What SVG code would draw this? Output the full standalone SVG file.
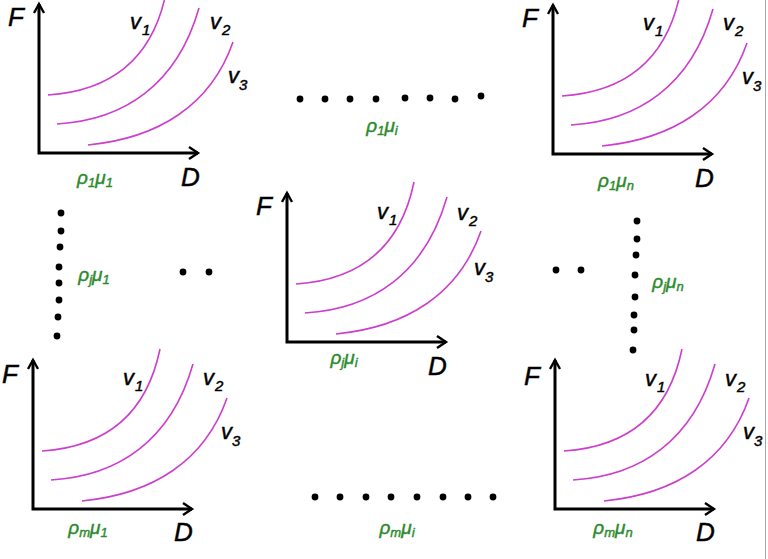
<svg xmlns="http://www.w3.org/2000/svg" xmlns:xlink="http://www.w3.org/1999/xlink" width="768" height="559" viewBox="0 0 768 559">
<style>
.ax{fill:none;stroke:#000;stroke-width:3}
.ch{fill:none;stroke:#000;stroke-width:2.4;stroke-linejoin:miter}
.cv{fill:none;stroke:#cc3fcc;stroke-width:1.6}
.t{font-family:"Liberation Sans",Arial,sans-serif;font-style:italic;fill:#000;stroke:#000;stroke-width:0.45}
.big{font-size:26px}
.v{font-size:22px}
.s{font-size:15px}
.g{font-family:"Liberation Sans",Arial,sans-serif;font-style:italic;fill:#2b8a2b;stroke:#2b8a2b;stroke-width:0.4;font-size:19px;text-anchor:middle}
.gs{font-size:13px}
.dot{fill:#000}
</style>
<defs>
<g id="plot">
<path class="ax" d="M0,-149 V0 H159"/>
<path class="ch" d="M-5,-140 L0,-149 L5,-140 M150,-6 L159,0 L150,6"/>
<path class="cv" d="M9,-58 C70,-62 113,-92 127,-160"/>
<path class="cv" d="M18,-29 C85,-33 138,-68 160,-145"/>
<path class="cv" d="M49,-8 C120,-15 172,-48 194,-111"/>
</g>
</defs>
<rect width="768" height="559" fill="#fff"/>
<line x1="765.5" y1="0" x2="765.5" y2="559" stroke="#a8a8a8" stroke-width="1"/>

<g id="panel-1-1">
<use xlink:href="#plot" href="#plot" x="39" y="153"/>
<text class="t big" x="8" y="26">F</text>
<text class="t v" x="130" y="29">v</text><text class="t s" x="142" y="35">1</text>
<text class="t v" x="210" y="29">v</text><text class="t s" x="222" y="35">2</text>
<text class="t v" x="228" y="83">v</text><text class="t s" x="239" y="90">3</text>
<text class="t big" x="181" y="186">D</text>
<text class="g" x="95" y="184">ρ<tspan class="gs" dy="3">1</tspan><tspan dy="-3">μ</tspan><tspan class="gs" dy="3">1</tspan></text>
</g>

<g id="panel-1-n">
<use xlink:href="#plot" href="#plot" x="553" y="154"/>
<text class="t big" x="522" y="27">F</text>
<text class="t v" x="643" y="30">v</text><text class="t s" x="655" y="36">1</text>
<text class="t v" x="723" y="30">v</text><text class="t s" x="735" y="36">2</text>
<text class="t v" x="742" y="84">v</text><text class="t s" x="753" y="91">3</text>
<text class="t big" x="695" y="187">D</text>
<text class="g" x="616" y="187">ρ<tspan class="gs" dy="3">1</tspan><tspan dy="-3">μ</tspan><tspan class="gs" dy="3">n</tspan></text>
</g>

<g id="panel-j-i">
<use xlink:href="#plot" href="#plot" x="287" y="342"/>
<text class="t big" x="256" y="215">F</text>
<text class="t v" x="377" y="219">v</text><text class="t s" x="389" y="225">1</text>
<text class="t v" x="457" y="220">v</text><text class="t s" x="469" y="226">2</text>
<text class="t v" x="474" y="275">v</text><text class="t s" x="485" y="282">3</text>
<text class="t big" x="428" y="375">D</text>
<text class="g" x="344" y="364">ρ<tspan class="gs" dy="3">j</tspan><tspan dy="-3">μ</tspan><tspan class="gs" dy="3">i</tspan></text>
</g>

<g id="panel-m-1">
<use xlink:href="#plot" href="#plot" x="33" y="509"/>
<text class="t big" x="2" y="383">F</text>
<text class="t v" x="123" y="385">v</text><text class="t s" x="135" y="391">1</text>
<text class="t v" x="203" y="385">v</text><text class="t s" x="215" y="391">2</text>
<text class="t v" x="221" y="439">v</text><text class="t s" x="232" y="446">3</text>
<text class="t big" x="174" y="541">D</text>
<text class="g" x="88" y="534">ρ<tspan class="gs" dy="3">m</tspan><tspan dy="-3">μ</tspan><tspan class="gs" dy="3">1</tspan></text>
</g>

<g id="panel-m-n">
<use xlink:href="#plot" href="#plot" x="555" y="509"/>
<text class="t big" x="524" y="385">F</text>
<text class="t v" x="645" y="386">v</text><text class="t s" x="657" y="392">1</text>
<text class="t v" x="725" y="386">v</text><text class="t s" x="737" y="392">2</text>
<text class="t v" x="743" y="439">v</text><text class="t s" x="754" y="446">3</text>
<text class="t big" x="696" y="541">D</text>
<text class="g" x="613" y="534">ρ<tspan class="gs" dy="3">m</tspan><tspan dy="-3">μ</tspan><tspan class="gs" dy="3">n</tspan></text>
</g>

<g id="label-1-i">
<text class="g" x="382" y="132">ρ<tspan class="gs" dy="3">1</tspan><tspan dy="-3">μ</tspan><tspan class="gs" dy="3">i</tspan></text>
</g>
<g id="label-m-i">
<text class="g" x="397" y="534">ρ<tspan class="gs" dy="3">m</tspan><tspan dy="-3">μ</tspan><tspan class="gs" dy="3">i</tspan></text>
</g>
<g id="label-j-1">
<text class="g" x="94" y="281">ρ<tspan class="gs" dy="3">j</tspan><tspan dy="-3">μ</tspan><tspan class="gs" dy="3">1</tspan></text>
</g>
<g id="label-j-n">
<text class="g" x="668" y="288">ρ<tspan class="gs" dy="3">j</tspan><tspan dy="-3">μ</tspan><tspan class="gs" dy="3">n</tspan></text>
</g>

<g id="connectors">
<g id="dots-top">
<circle class="dot" cx="300" cy="99" r="3.4"/><circle class="dot" cx="325" cy="99" r="3.4"/><circle class="dot" cx="350" cy="99" r="3.4"/><circle class="dot" cx="376" cy="99" r="3.4"/><circle class="dot" cx="405" cy="98" r="3.4"/><circle class="dot" cx="430" cy="98" r="3.4"/><circle class="dot" cx="455" cy="99" r="3.4"/><circle class="dot" cx="481" cy="96" r="3.4"/>
</g>
<g id="dots-bottom">
<circle class="dot" cx="315" cy="497" r="3.4"/><circle class="dot" cx="340" cy="497" r="3.4"/><circle class="dot" cx="366" cy="497" r="3.4"/><circle class="dot" cx="391" cy="497" r="3.4"/><circle class="dot" cx="417" cy="497" r="3.4"/><circle class="dot" cx="443" cy="497" r="3.4"/><circle class="dot" cx="468" cy="497" r="3.4"/><circle class="dot" cx="493" cy="497" r="3.4"/>
</g>
<g id="dots-left">
<circle class="dot" cx="61" cy="213" r="3.4"/><circle class="dot" cx="61" cy="231" r="3.4"/><circle class="dot" cx="60" cy="247" r="3.4"/><circle class="dot" cx="59" cy="267" r="3.4"/><circle class="dot" cx="59" cy="283" r="3.4"/><circle class="dot" cx="59" cy="300" r="3.4"/><circle class="dot" cx="58" cy="317" r="3.4"/><circle class="dot" cx="57" cy="336" r="3.4"/>
</g>
<g id="dots-right">
<circle class="dot" cx="637" cy="221" r="3.4"/><circle class="dot" cx="637" cy="239" r="3.4"/><circle class="dot" cx="636" cy="255" r="3.4"/><circle class="dot" cx="635" cy="275" r="3.4"/><circle class="dot" cx="635" cy="297" r="3.4"/><circle class="dot" cx="634" cy="315" r="3.4"/><circle class="dot" cx="634" cy="330" r="3.4"/><circle class="dot" cx="633" cy="350" r="3.4"/>
</g>
<g id="dots-mid">
<circle class="dot" cx="183" cy="272" r="3.4"/><circle class="dot" cx="209" cy="272" r="3.4"/><circle class="dot" cx="556" cy="270" r="3.4"/><circle class="dot" cx="581" cy="270" r="3.4"/>
</g>
</g>
</svg>
